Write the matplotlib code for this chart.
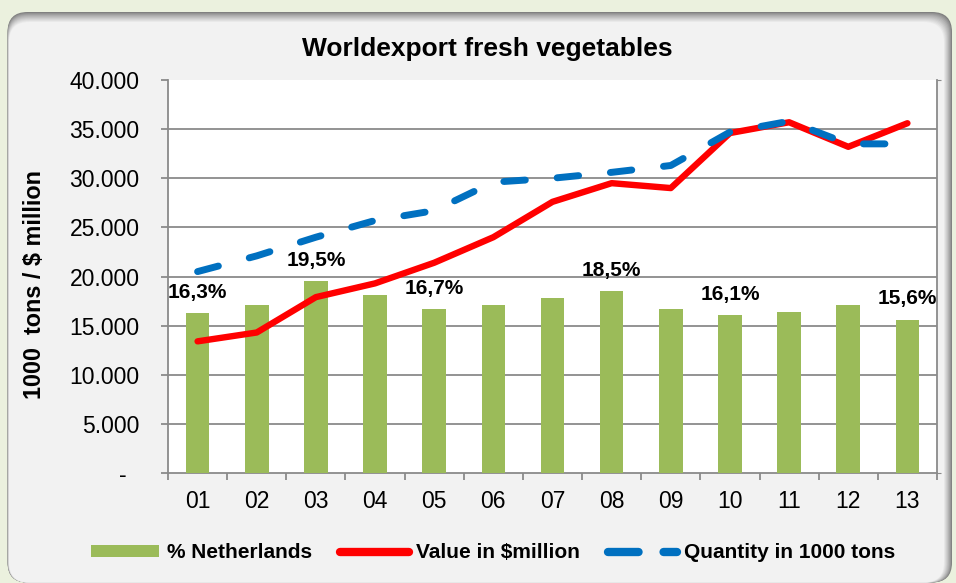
import matplotlib
matplotlib.use('Agg')
import matplotlib.pyplot as plt
from matplotlib.patches import FancyBboxPatch, Patch
from matplotlib.lines import Line2D
from matplotlib.transforms import IdentityTransform
import numpy as np

# ---------------- data ----------------
years = ['01', '02', '03', '04', '05', '06', '07', '08', '09', '10', '11', '12', '13']
pct_netherlands = [16.3, 17.1, 19.5, 18.1, 16.7, 17.1, 17.8, 18.5, 16.7, 16.1, 16.4, 17.1, 15.6]
value_musd = [13400, 14300, 17900, 19300, 21400, 24000, 27600, 29500, 29000, 34600, 35700, 33200, 35600]
quantity_kt = [20500, 22100, 24000, 25700, 26700, 29600, 30000, 30600, 31300, 34700, 35800, 33500, 33500]
labelled = ['01', '03', '05', '08', '10', '13']
yticks_left = [0, 5000, 10000, 15000, 20000, 25000, 30000, 35000, 40000]

title = 'Worldexport fresh vegetables'
ylabel = '1000  tons / $ million'
legend_labels = ['% Netherlands', 'Value in $million', 'Quantity in 1000 tons']

# ---------------- style ----------------
plt.rcParams['font.family'] = ['Liberation Sans', 'DejaVu Sans']
plt.rcParams['lines.scale_dashes'] = False
GREEN = '#9BBB59'
RED = '#FF0000'
BLUE = '#0070C0'
GRID = '#8A8A8A'

W, H = 956, 583
fig = plt.figure(figsize=(W / 100, H / 100), dpi=100, facecolor='#EBF1DE')

# rounded panel with shadow at top / right
base = np.array([0x80, 0x80, 0x80]) / 255
panel = np.array([0xF2, 0xF2, 0xF2]) / 255
n = 10
for i in range(n + 1):
    t = (i / n) ** 0.8
    col = base * (1 - t) + panel * t
    x0 = 7.5 + 0.15 * i
    x1 = 952 - 0.8 * i
    y0 = 0.5
    y1 = 571 - 1.0 * i
    p = FancyBboxPatch((x0, y0), x1 - x0, y1 - y0,
                       boxstyle='round,pad=0,rounding_size=20',
                       transform=IdentityTransform(), facecolor=col,
                       edgecolor='none', zorder=-10)
    fig.patches.append(p)

# axes
left, right, top, bottom = 168, 937, 80, 473
axb = fig.add_axes([left / W, 1 - bottom / H, (right - left) / W, (bottom - top) / H])
ax = axb.twinx()
axb.set_zorder(1)
ax.set_zorder(2)
ax.patch.set_visible(False)
axb.patch.set_facecolor('white')

x = np.arange(len(years))

# bars on secondary scale (percent)
axb.bar(x, pct_netherlands, width=0.4, color=GREEN, zorder=3)
axb.set_ylim(0, 40)
axb.set_yticks([0, 40])
axb.set_yticks(np.arange(0, 41, 5), minor=True)
axb.yaxis.tick_right()
axb.tick_params(axis='y', which='major', right=True, left=False, length=3,
                color=GRID, labelright=False, labelleft=False)
axb.tick_params(axis='y', which='minor', length=0)
axb.grid(True, axis='y', which='minor', color=GRID, lw=1.3, zorder=0)
axb.set_axisbelow(True)

# x axis (on the bar axes, which owns the visible x axis)
axb.set_xlim(-0.5, len(years) - 0.5)
axb.set_xticks(np.arange(-0.5, len(years), 1))
axb.set_xticklabels([])
axb.set_xticks(x, minor=True)
axb.set_xticklabels(years, minor=True)
axb.tick_params(axis='x', which='major', length=5, width=1.3, color=GRID)
axb.tick_params(axis='x', which='minor', length=0, pad=12.5, labelsize=16.5)

for s in ['left', 'top']:
    axb.spines[s].set_visible(False)
for s in ['right', 'bottom']:
    axb.spines[s].set_color(GRID)
    axb.spines[s].set_linewidth(1.3)

# lines on primary scale
ax.plot(x, value_musd, color=RED, lw=4.6, solid_capstyle='round',
        solid_joinstyle='round', zorder=4)
lq, = ax.plot(x, quantity_kt, color=BLUE, lw=5.0, dash_capstyle='round',
              zorder=5)
lq.set_dashes([15.5, 23])

ax.set_ylim(0, 40000)
ax.yaxis.tick_left()
ax.set_yticks(yticks_left)
ax.set_yticklabels(['-  ' if v == 0 else f'{v:,.0f}'.replace(',', '.') for v in yticks_left])
ax.tick_params(axis='y', which='major', left=True, right=False, length=5,
               width=1.3, color=GRID, pad=15.5, labelsize=16.5, labelleft=True,
               labelright=False)
for s in ['top', 'right', 'bottom']:
    ax.spines[s].set_visible(False)
ax.spines['left'].set_color(GRID)
ax.spines['left'].set_linewidth(1.3)

# data labels
for i, yr in enumerate(years):
    if yr in labelled:
        v = pct_netherlands[i]
        ax.annotate(f'{v:.1f}%'.replace('.', ','), xy=(i, v), xycoords=axb.transData,
                    xytext=(0, 11), textcoords='offset points', ha='center',
                    va='baseline', fontsize=15, fontweight='bold', zorder=10)

# title and y label
fig.text(487.5 / W, 1 - 56 / H, title, ha='center', va='baseline',
         fontsize=19, fontweight='bold')
fig.text(35 / W, 1 - 284 / H, ylabel, rotation=90, ha='center', va='center',
         fontsize=16.8, fontweight='bold')

# legend
handles = [Patch(facecolor=GREEN, edgecolor='none'),
           Line2D([], [], color=RED, lw=6, solid_capstyle='round'),
           Line2D([], [], color=BLUE, lw=6, dash_capstyle='round', dashes=[22, 18])]
leg = fig.legend(handles, legend_labels, loc='center', bbox_to_anchor=(493 / W, 1 - 553 / H),
                 ncol=3, frameon=False, handlelength=3.3, handleheight=0.5,
                 handletextpad=0.35, columnspacing=1.35,
                 prop={'size': 15, 'weight': 'bold'})

fig.savefig('out.png', dpi=100, facecolor=fig.get_facecolor())
